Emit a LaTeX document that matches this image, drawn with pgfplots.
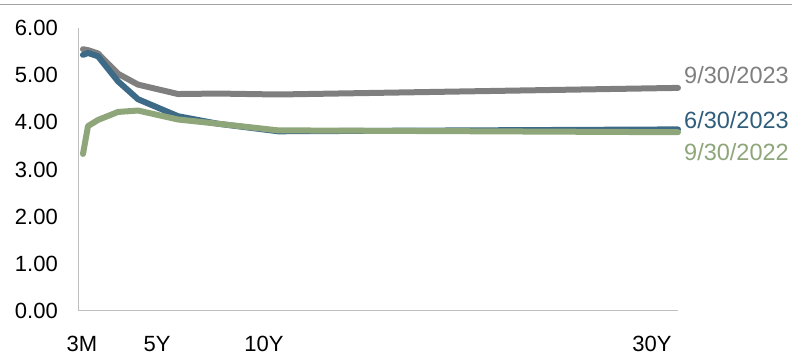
\documentclass[border=0pt]{standalone}
\usepackage{pgfplots}
\pgfplotsset{compat=1.18}
\usepackage{fontspec}
\setmainfont{Liberation Sans}
\definecolor{cgray}{HTML}{7F7F7F}
\definecolor{cblue}{HTML}{3D6B87}
\definecolor{cgreen}{HTML}{8EA67A}
\definecolor{cbluetxt}{HTML}{2F5D7A}
\definecolor{caxis}{HTML}{BFBFBF}
\begin{document}
\begin{tikzpicture}[x=1pt,y=1pt]
\path[use as bounding box] (0,0) rectangle (793,355);
\draw[color=caxis!85!black, line width=1.5pt] (0,350.5) -- (792,350.5);
\begin{axis}[
  at={(78pt,44pt)}, anchor=origin,
  scale only axis, width=600pt, height=283pt,
  xmin=0, xmax=30, ymin=0, ymax=6,
  axis x line=bottom, axis y line=left,
  axis line style={draw=caxis, line width=1pt, -},
  major tick length=0pt,
  xtick={0.2,3.95,9.3,28.7},
  xticklabels={3M,5Y,10Y,30Y},
  ytick={0,1,2,3,4,5,6},
  yticklabel={\pgfmathprintnumber[fixed,fixed zerofill,precision=2]{\tick}},
  /pgf/number format/assume math mode=true,
  ticklabel style={font=\fontsize{22}{26}\selectfont, text=black, inner sep=0pt},
  yticklabel style={anchor=east, xshift=-20pt},
  xticklabel style={anchor=north, yshift=-25pt},
  clip=false,
]
\addplot[cgray, line width=6pt, line join=round, line cap=round] coordinates {
 (0.25,5.55) (0.5,5.53) (1,5.46) (2,5.03) (3,4.80) (5,4.60) (7,4.61) (10,4.59) (30,4.73)};
\addplot[cblue, line width=6pt, line join=round, line cap=round] coordinates {
 (0.25,5.43) (0.5,5.47) (1,5.40) (2,4.87) (3,4.49) (5,4.13) (7,3.97) (10,3.81) (30,3.85)};
\addplot[cgreen, line width=6pt, line join=round, line cap=round] coordinates {
 (0.25,3.33) (0.5,3.92) (1,4.05) (2,4.22) (3,4.25) (5,4.06) (7,3.97) (10,3.83) (30,3.79)};
\node[anchor=west, inner sep=0pt, text=cgray, font=\fontsize{23.5}{27}\selectfont] at (axis cs:30.3,5.0) {9/30/2023};
\node[anchor=west, inner sep=0pt, text=cbluetxt, font=\fontsize{23.5}{27}\selectfont] at (axis cs:30.3,4.05) {6/30/2023};
\node[anchor=west, inner sep=0pt, text=cgreen, font=\fontsize{23.5}{27}\selectfont] at (axis cs:30.3,3.37) {9/30/2022};
\end{axis}
\end{tikzpicture}
\end{document}
